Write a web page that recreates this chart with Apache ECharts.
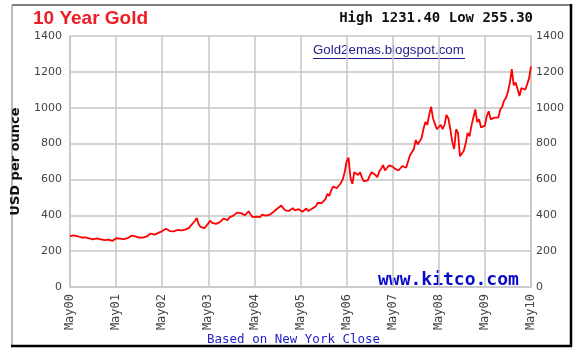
<!DOCTYPE html>
<html>
<head>
<meta charset="utf-8">
<script src="https://cdn.jsdelivr.net/npm/echarts@6/dist/echarts.min.js"></script>
<style>
  html, body { margin: 0; padding: 0; background: #fff; }
  #main { width: 587px; height: 358px; }
</style>
</head>
<body>
<div id="main"></div>
<script>
// tick labels along the bottom, one per year
var tickLabels = ['May00', 'May01', 'May02', 'May03', 'May04', 'May05', 'May06', 'May07', 'May08', 'May09', 'May10'];

// gold close, two readings per month, each array one year starting in May
var y2000 = [284, 276, 288, 285, 283, 279, 276, 274, 277, 270, 271, 267, 266, 268, 271, 273, 266, 264, 261, 266, 264, 259, 257, 263];
var y2001 = [272, 268, 270, 273, 267, 265, 272, 275, 286, 290, 282, 279, 276, 274, 275, 278, 282, 285, 298, 296, 292, 300, 302, 307];
var y2002 = [312, 322, 325, 318, 312, 305, 310, 312, 318, 323, 316, 318, 320, 318, 330, 344, 354, 368, 385, 350, 335, 330, 328, 336];
var y2003 = [355, 370, 358, 348, 352, 358, 362, 372, 382, 378, 372, 388, 392, 398, 404, 415, 425, 412, 402, 400, 408, 422, 405, 390];
var y2004 = [383, 392, 395, 390, 404, 393, 398, 405, 403, 412, 420, 426, 438, 448, 455, 440, 428, 422, 424, 432, 440, 428, 432, 434];
var y2005 = [425, 420, 426, 438, 424, 428, 436, 442, 450, 470, 472, 468, 475, 490, 520, 508, 540, 560, 555, 552, 556, 580, 600, 640];
var y2006 = [700, 722, 610, 575, 640, 630, 625, 640, 610, 590, 580, 595, 620, 640, 630, 625, 612, 645, 660, 680, 650, 660, 678, 685];
var y2007 = [672, 660, 655, 650, 660, 675, 668, 665, 700, 735, 740, 770, 820, 795, 800, 830, 880, 920, 905, 960, 1005, 940, 910, 880];
var y2008 = [870, 905, 880, 905, 960, 940, 880, 810, 770, 880, 860, 730, 745, 760, 800, 860, 840, 900, 945, 990, 920, 935, 890, 880];
var y2009 = [900, 955, 980, 935, 925, 945, 950, 945, 990, 1005, 1040, 1055, 1090, 1140, 1215, 1125, 1140, 1105, 1065, 1110, 1120, 1100, 1130, 1165];
var y2010 = [1231];

var prices = [].concat(y2000, y2001, y2002, y2003, y2004, y2005, y2006, y2007, y2008, y2009, y2010);
var priceData = prices.map(function (v, i) { return [i, v]; });

var chart = echarts.init(document.getElementById('main'), null, { renderer: 'canvas' });

var gridLine = { show: true, lineStyle: { color: '#c6c6c6', width: 1.5 } };
// plain numbers, no thousands separator
var labelFont = { fontFamily: 'DejaVu Sans', fontSize: 11, color: '#444', formatter: function (v) { return String(v); } };

chart.setOption({
    animation: false,
    backgroundColor: '#fff',
    grid: { left: 70, right: 56, top: 36, bottom: 71 },
    xAxis: {
        type: 'value',
        min: 0,
        max: 240,
        interval: 24,
        axisLine: { show: true, lineStyle: { color: '#c6c6c6', width: 1.5 } },
        axisTick: { show: false },
        splitLine: gridLine,
        axisLabel: {
            rotate: 90,
            margin: 7,
            fontFamily: 'DejaVu Sans Mono',
            fontSize: 12,
            color: '#444',
            formatter: function (v) { return tickLabels[Math.round(v / 24)]; }
        }
    },
    yAxis: [{
        type: 'value',
        min: 0,
        max: 1400,
        interval: 200,
        name: 'USD per ounce',
        nameLocation: 'middle',
        nameRotate: 90,
        nameGap: 48,
        nameTextStyle: { fontFamily: 'DejaVu Sans', fontWeight: 'bold', fontSize: 13, color: '#111' },
        axisLine: { show: true, lineStyle: { color: '#c6c6c6', width: 1.5 } },
        axisTick: { show: false },
        splitLine: gridLine,
        axisLabel: Object.assign({ margin: 8 }, labelFont)
    }, {
        type: 'value',
        position: 'right',
        min: 0,
        max: 1400,
        interval: 200,
        axisLine: { show: true, lineStyle: { color: '#c6c6c6', width: 1.5 } },
        axisTick: { show: false },
        splitLine: { show: false },
        axisLabel: Object.assign({ margin: 5 }, labelFont)
    }],
    series: [{
        type: 'line',
        data: priceData,
        showSymbol: false,
        lineStyle: { color: '#ff0000', width: 1.8 },
        itemStyle: { color: '#ff0000' }
    }],
    graphic: [
        // frame of the pasted picture
        { type: 'line', shape: { x1: 12, y1: 5, x2: 571, y2: 5 }, style: { stroke: '#555', lineWidth: 1.5 } },
        { type: 'line', shape: { x1: 12, y1: 5, x2: 12, y2: 346 }, style: { stroke: '#777', lineWidth: 1 } },
        { type: 'line', shape: { x1: 571, y1: 4, x2: 571, y2: 347 }, style: { stroke: '#000', lineWidth: 2.5 } },
        { type: 'line', shape: { x1: 11, y1: 346, x2: 572, y2: 346 }, style: { stroke: '#000', lineWidth: 2.5 } },
        { type: 'text', left: 33, top: 9, style: { text: '10 Year Gold', font: 'bold 19px "Liberation Sans"', fill: '#ee1c24' } },
        { type: 'text', right: 54, top: 11, style: { text: 'High 1231.40 Low 255.30', font: 'bold 14px "DejaVu Sans Mono"', fill: '#111' } },
        { type: 'text', left: 313, top: 44, style: { text: 'Gold2emas.blogspot.com', font: '13.3px "Liberation Sans"', fill: '#1f1f8f' } },
        { type: 'line', shape: { x1: 313, y1: 58.5, x2: 465, y2: 58.5 }, style: { stroke: '#1f1f8f', lineWidth: 1 } },
        { type: 'text', left: 378, top: 271, style: { text: 'www.kitco.com', font: 'bold 18px "DejaVu Sans Mono"', fill: '#0a0acc' } },
        { type: 'text', left: 207, top: 333, style: { text: 'Based on New York Close', font: '12.5px "DejaVu Sans Mono"', fill: '#2323cc' } }
    ]
});
</script>
</body>
</html>
